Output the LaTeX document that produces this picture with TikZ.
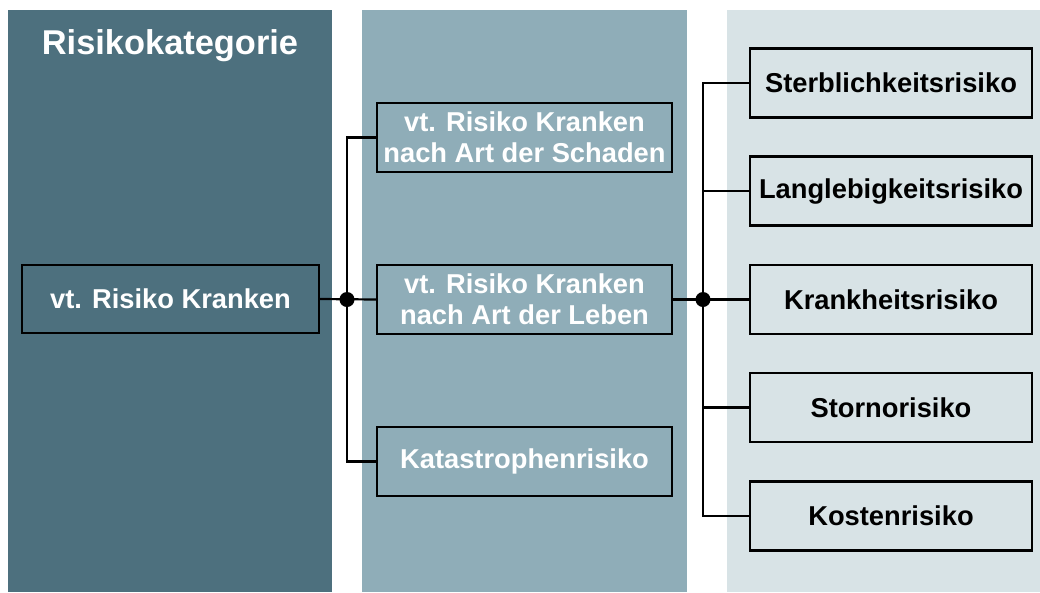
\documentclass[tikz,border=0pt]{standalone}
\usepackage{fontspec}
\setmainfont{Liberation Sans}
\definecolor{colA}{RGB}{77,112,126}
\definecolor{colB}{RGB}{143,173,184}
\definecolor{colC}{RGB}{216,227,230}
\tikzset{
  box/.style={draw=black, line width=2.4pt, inner sep=0pt, align=center,
    font=\bfseries\fontsize{27.3}{31}\selectfont},
  leftbox/.style={box, fill=colA, text=white, minimum width=297pt, minimum height=68pt},
  midbox/.style={box, fill=colB, text=white, minimum width=295pt, minimum height=69pt},
  rightbox/.style={box, fill=colC, text=black, minimum width=282pt, minimum height=69pt},
  conn/.style={draw=black, line width=2.2pt},
  dot/.style={fill=black}
}
\begin{document}
\begin{tikzpicture}[x=1pt,y=-1pt]
\useasboundingbox (0,0) rectangle (1040,592);
\fill[colA] (8,10) rectangle (332,592);
\fill[colB] (362,10) rectangle (687,592);
\fill[colC] (727,10) rectangle (1040,592);
\node[text=white, font=\bfseries\fontsize{34.4}{40}\selectfont] (title) at (170,46) {Risikokategorie};

\node[leftbox] (L) at (170.5,299) {vt. Risiko Kranken};

\node[midbox] (M1) at (524.5,137.5) {vt. Risiko Kranken\\nach Art der Schaden};
\node[midbox] (M2) at (524.5,299.5) {vt. Risiko Kranken\\nach Art der Leben};
\node[midbox] (M3) at (524.5,461.5) {Katastrophenrisiko};

\node[rightbox] (R1) at (891,83) {Sterblichkeitsrisiko};
\node[rightbox] (R2) at (891,191) {Langlebigkeitsrisiko};
\node[rightbox] (R3) at (891,299.5) {Krankheitsrisiko};
\node[rightbox] (R4) at (891,407.5) {Stornorisiko};
\node[rightbox] (R5) at (891,516) {Kostenrisiko};

\coordinate (d1) at (347,299.5);
\coordinate (d2) at (703,299.5);

\draw[conn] (L.east) -- (M2.west);
\draw[conn] (M1.west) -| (d1);
\draw[conn] (M3.west) -| (d1);
\draw[conn] (M2.east) -- (R3.west);
\draw[conn] (R1.west) -| (d2);
\draw[conn] (R2.west) -| (d2);
\draw[conn] (R4.west) -| (d2);
\draw[conn] (R5.west) -| (d2);
\fill[dot] (d1) circle (7.5);
\fill[dot] (d2) circle (7.5);
\end{tikzpicture}
\end{document}
